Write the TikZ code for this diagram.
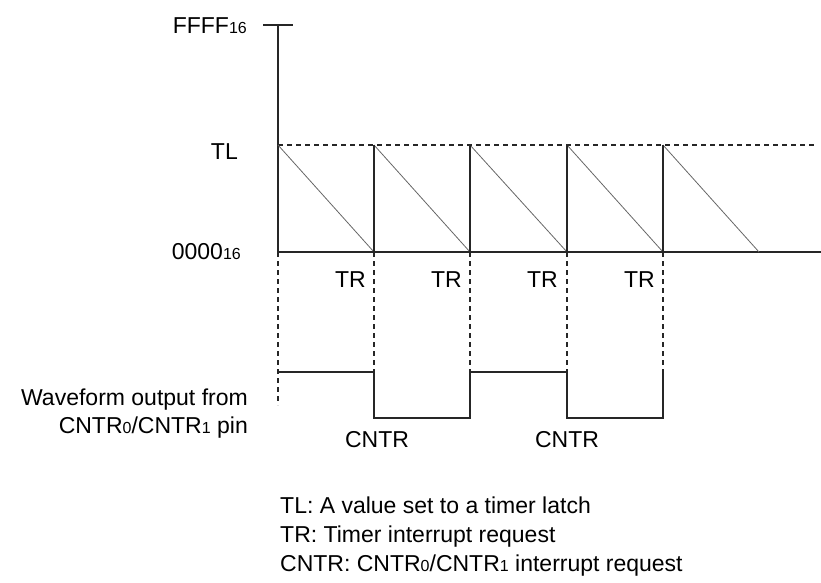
\documentclass[tikz,border=0pt]{standalone}
\usepackage{fontspec}
\setmainfont{Liberation Sans}
\newcommand\smalldig[1]{{\fontsize{16}{16}\selectfont #1}}
\begin{document}
\begin{tikzpicture}[x=1pt,y=-1pt,
  lbl/.style={inner sep=0pt, font=\fontsize{23}{27}\selectfont},
  solidline/.style={line width=2pt, draw=black!85},
  dashline/.style={line width=2pt, draw=black!85, dash pattern=on 5pt off 4pt},
  ramp/.style={line width=0.8pt, draw=black!60}]
\useasboundingbox (0,0) rectangle (821,582);
% key coordinates
\coordinate (top) at (278,25);
\coordinate (o) at (278,252);
\coordinate (tl0) at (278,145);
\coordinate (tlend) at (817,145);
\coordinate (bend) at (821,252);
\foreach \i/\x in {1/374,2/470,3/567,4/663}{
  \coordinate (t\i) at (\x,145);
  \coordinate (b\i) at (\x,252);
  \coordinate (h\i) at (\x,372);
  \coordinate (l\i) at (\x,418);
}
\coordinate (rampend) at (759,252);
\coordinate (h0) at (278,372);
\coordinate (d0) at (278,405);
% axis
\draw[solidline] (top) -- (o);
\draw[solidline] (263,25) -- (293,25);
\draw[solidline] (o) -- (bend);
\draw[dashline] (tl0) -- (tlend);
% counter ramps
\draw[ramp] (tl0) -- (b1);
\draw[ramp] (t1) -- (b2);
\draw[ramp] (t2) -- (b3);
\draw[ramp] (t3) -- (b4);
\draw[ramp] (t4) -- (rampend);
\foreach \i in {1,2,3,4}{
  \draw[solidline] (b\i) -- (t\i);
  \draw[dashline] (b\i) -- (h\i);
}
\draw[dashline] (o) -- (d0);
% waveform
\draw[solidline] (h0) -- (h1) -- (l1) -- (l2) -- (h2) -- (h3) -- (l3) -- (l4) -- (h4);
% labels
\node[lbl, anchor=base east] (lffff) at (247,33) {FFFF\smalldig{16}};
\node[lbl, anchor=base east] (ltl) at (238,159) {TL};
\node[lbl, anchor=base east] (lzero) at (241,259) {0000\smalldig{16}};
\node[lbl, anchor=base east] (tr1) at (366,287) {TR};
\node[lbl, anchor=base east] (tr2) at (462,287) {TR};
\node[lbl, anchor=base east] (tr3) at (558,287) {TR};
\node[lbl, anchor=base east] (tr4) at (655,287) {TR};
\node[lbl, anchor=base] (cn1) at (377,447) {CNTR};
\node[lbl, anchor=base] (cn2) at (567,447) {CNTR};
\node[lbl, anchor=base east] (wf1) at (248,405) {Waveform output from};
\node[lbl, anchor=base east] (wf2) at (248,433) {CNTR\smalldig{0}/CNTR\smalldig{1} pin};
\node[lbl, anchor=base west] (lg1) at (280,513) {TL: A value set to a timer latch};
\node[lbl, anchor=base west] (lg2) at (280,542) {TR: Timer interrupt request};
\node[lbl, anchor=base west] (lg3) at (280,571) {CNTR: CNTR\smalldig{0}/CNTR\smalldig{1} interrupt request};
\end{tikzpicture}
\end{document}
